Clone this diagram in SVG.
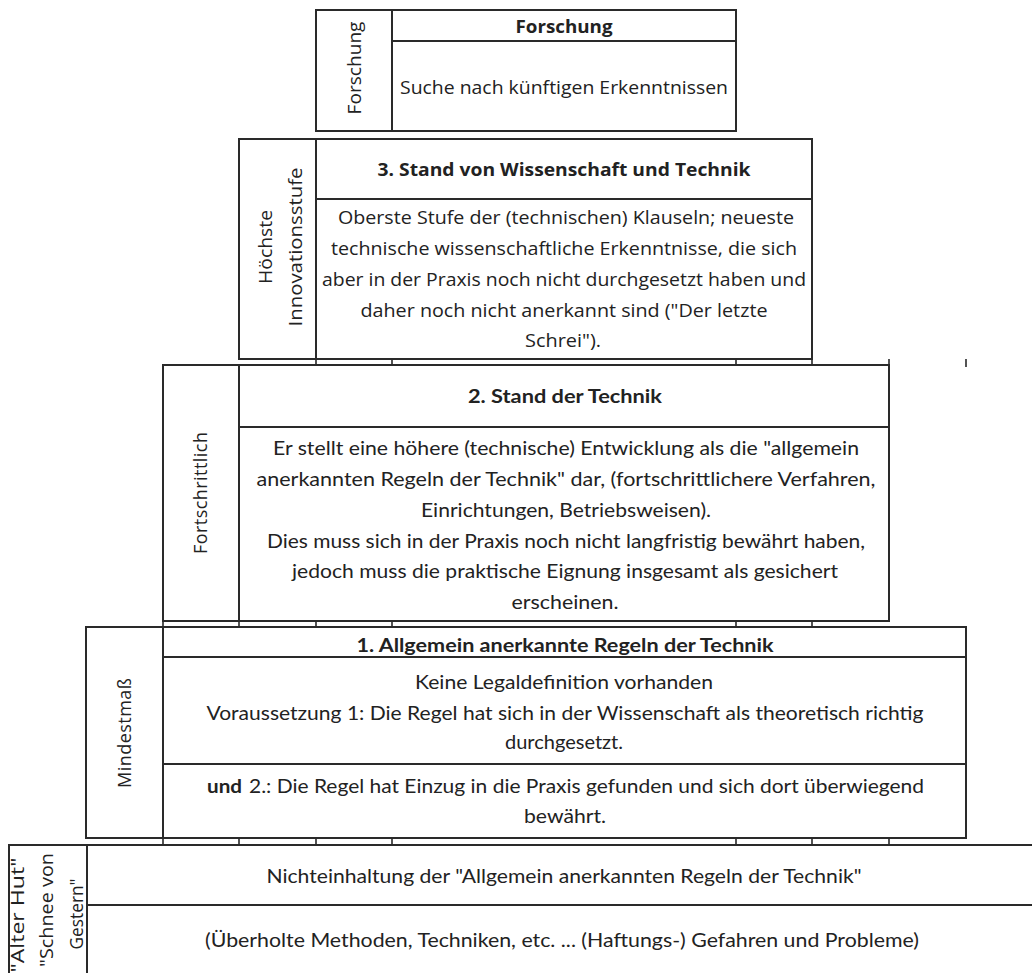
<svg xmlns="http://www.w3.org/2000/svg" width="1032" height="973" viewBox="0 0 1032 973">
<style>
.box{fill:#fff;stroke:#2a2a2a;stroke-width:2}
.ln{stroke:#2a2a2a;stroke-width:2;fill:none}
.tk{stroke:#2a2a2a;stroke-width:1.6;fill:none}
text{fill:#222;text-anchor:middle}
.seg{font-family:"Open Sans","Noto Sans",sans-serif;font-size:18px}
.cal{font-family:Lato,"Liberation Sans",sans-serif;font-size:19px}
.b{font-weight:bold}
.vt{font-family:"Open Sans","Noto Sans",sans-serif;font-size:18px}
</style>
<rect width="1032" height="973" fill="#fff"/>

<g id="node-forschung">
<rect class="box" x="316" y="10" width="420" height="121"/>
<line class="ln" x1="392" y1="10" x2="392" y2="131"/>
<line class="ln" x1="392" y1="41" x2="736" y2="41"/>
<text class="seg b" x="564" y="33" textLength="97" lengthAdjust="spacingAndGlyphs">Forschung</text>
<text class="seg" x="564" y="94" font-size="19" textLength="328" lengthAdjust="spacingAndGlyphs">Suche nach künftigen Erkenntnissen</text>
<text class="vt" transform="translate(361,68) rotate(-90)" font-size="19" textLength="93" lengthAdjust="spacingAndGlyphs">Forschung</text>
</g>

<g id="node-stufe3">
<rect class="box" x="239" y="139" width="573" height="220"/>
<line class="ln" x1="316" y1="139" x2="316" y2="359"/>
<line class="ln" x1="316" y1="199" x2="812" y2="199"/>
<text class="seg b" x="564" y="176" textLength="373" lengthAdjust="spacingAndGlyphs">3. Stand von Wissenschaft und Technik</text>
<text class="seg" x="566" y="224" textLength="456" lengthAdjust="spacingAndGlyphs">Oberste Stufe der (technischen) Klauseln; neueste</text>
<text class="seg" x="564" y="255" textLength="466" lengthAdjust="spacingAndGlyphs">technische wissenschaftliche Erkenntnisse, die sich</text>
<text class="seg" x="564" y="286" textLength="484" lengthAdjust="spacingAndGlyphs">aber in der Praxis noch nicht durchgesetzt haben und</text>
<text class="seg" x="564" y="317" textLength="407" lengthAdjust="spacingAndGlyphs">daher noch nicht anerkannt sind ("Der letzte</text>
<text class="seg" x="563" y="347" textLength="76" lengthAdjust="spacingAndGlyphs">Schrei").</text>
<text class="vt" transform="translate(272,247) rotate(-90)" textLength="74" lengthAdjust="spacingAndGlyphs">Höchste</text>
<text class="vt" transform="translate(302,247) rotate(-90)" textLength="159" lengthAdjust="spacingAndGlyphs">Innovationsstufe</text>
</g>

<g id="node-stufe2">
<rect class="box" x="163" y="365" width="726" height="256"/>
<line class="ln" x1="239" y1="365" x2="239" y2="621"/>
<line class="ln" x1="239" y1="427" x2="889" y2="427"/>
<text class="cal b" x="565" y="403" textLength="194" lengthAdjust="spacingAndGlyphs">2. Stand der Technik</text>
<text class="cal" x="566" y="455" textLength="586" lengthAdjust="spacingAndGlyphs">Er stellt eine höhere (technische) Entwicklung als die "allgemein</text>
<text class="cal" x="566" y="486" textLength="619" lengthAdjust="spacingAndGlyphs">anerkannten Regeln der Technik" dar, (fortschrittlichere Verfahren,</text>
<text class="cal" x="566" y="517" textLength="290" lengthAdjust="spacingAndGlyphs">Einrichtungen, Betriebsweisen).</text>
<text class="cal" x="566" y="548" textLength="598" lengthAdjust="spacingAndGlyphs">Dies muss sich in der Praxis noch nicht langfristig bewährt haben,</text>
<text class="cal" x="565" y="578" textLength="546" lengthAdjust="spacingAndGlyphs">jedoch muss die praktische Eignung insgesamt als gesichert</text>
<text class="cal" x="565" y="609" textLength="107" lengthAdjust="spacingAndGlyphs">erscheinen.</text>
<text class="vt" transform="translate(207,493) rotate(-90)" textLength="122" lengthAdjust="spacing">Fortschrittlich</text>
</g>

<g id="node-stufe1">
<rect class="box" x="86" y="627" width="880" height="211"/>
<line class="ln" x1="163" y1="627" x2="163" y2="838"/>
<line class="ln" x1="163" y1="657" x2="966" y2="657"/>
<line class="ln" x1="163" y1="764" x2="966" y2="764"/>
<text class="cal b" x="565" y="652" textLength="417" lengthAdjust="spacingAndGlyphs">1. Allgemein anerkannte Regeln der Technik</text>
<text class="cal" x="564" y="689" textLength="298" lengthAdjust="spacingAndGlyphs">Keine Legaldefinition vorhanden</text>
<text class="cal" x="565" y="720" textLength="717" lengthAdjust="spacingAndGlyphs">Voraussetzung 1: Die Regel hat sich in der Wissenschaft als theoretisch richtig</text>
<text class="cal" x="564" y="749" textLength="118" lengthAdjust="spacingAndGlyphs">durchgesetzt.</text>
<text class="cal b" x="207" y="793" style="text-anchor:start" textLength="35" lengthAdjust="spacingAndGlyphs">und</text>
<text class="cal" x="249" y="793" style="text-anchor:start" textLength="675" lengthAdjust="spacingAndGlyphs">2.: Die Regel hat Einzug in die Praxis gefunden und sich dort überwiegend</text>
<text class="cal" x="565" y="823" textLength="82" lengthAdjust="spacingAndGlyphs">bewährt.</text>
<text class="vt" transform="translate(131,733) rotate(-90)" textLength="110" lengthAdjust="spacing">Mindestmaß</text>
</g>

<g id="node-nichteinhaltung">
<rect class="box" x="9" y="845" width="1040" height="150"/>
<line class="ln" x1="87" y1="845" x2="87" y2="973"/>
<line class="ln" x1="87" y1="905" x2="1032" y2="905"/>
<text class="cal" x="564" y="883" textLength="595" lengthAdjust="spacingAndGlyphs">Nichteinhaltung der "Allgemein anerkannten Regeln der Technik"</text>
<text class="cal" x="562" y="947" textLength="714" lengthAdjust="spacingAndGlyphs">(Überholte Methoden, Techniken, etc. ... (Haftungs-) Gefahren und Probleme)</text>
<text class="vt" transform="translate(24,915) rotate(-90)" textLength="115" lengthAdjust="spacingAndGlyphs">"Alter Hut"</text>
<text class="vt" transform="translate(53,910) rotate(-90)" textLength="114" lengthAdjust="spacingAndGlyphs">"Schnee von</text>
<text class="vt" transform="translate(83,914) rotate(-90)" textLength="71" lengthAdjust="spacingAndGlyphs">Gestern"</text>
</g>

<g id="connectors">
<path class="tk" d="M316 359V365M392 359V365M736 359V365M812 359V365M889 359V365M966 359V367"/>
<path class="tk" d="M163 621V627M239 621V627M316 621V627M392 621V627M736 621V627M812 621V627"/>
<path class="tk" d="M163 838V845M239 838V845M316 838V845M392 838V845M736 838V845M812 838V845M889 838V845"/>
</g>
</svg>
